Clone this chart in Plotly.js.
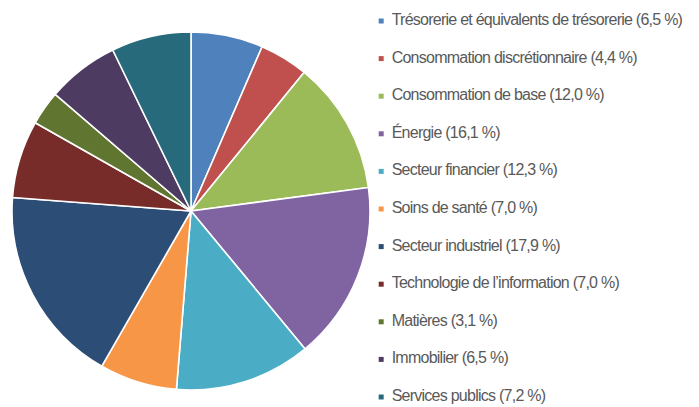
<!DOCTYPE html>
<html>
<head>
<meta charset="utf-8">
<script src="https://cdn.plot.ly/plotly-3.0.1.min.js"></script>
<style>
html,body{margin:0;padding:0;background:#fff;}
#chart{width:699px;height:407px;}
#chart .textpoint text{letter-spacing:-0.75px;}
</style>
</head>
<body>
<div id="chart"></div>
<script>
const categories = [
  "Trésorerie et équivalents de trésorerie",
  "Consommation discrétionnaire",
  "Consommation de base",
  "Énergie",
  "Secteur financier",
  "Soins de santé",
  "Secteur industriel",
  "Technologie de l’information",
  "Matières",
  "Immobilier",
  "Services publics"
];
const valueLabels = ["6,5 %", "4,4 %", "12,0 %", "16,1 %", "12,3 %", "7,0 %", "17,9 %", "7,0 %", "3,1 %", "6,5 %", "7,2 %"];
const values = [6.5, 4.4, 12.0, 16.1, 12.3, 7.0, 17.9, 7.0, 3.1, 6.5, 7.2];
const colors = ["#4F81BD", "#C0504D", "#9BBB59", "#8064A2", "#4BACC6", "#F79646",
                "#2C4D75", "#772C2A", "#5F7530", "#4D3B62", "#276A7C"];

const W = 699, H = 407;
const legendText = categories.map((c, i) => c + " (" + valueLabels[i] + ")");
const legendY = categories.map((c, i) => -i);
const markerX = categories.map(() => 0);
const textX = categories.map(() => 0.033);

const pie = {
  type: "pie",
  labels: categories,
  values: values,
  sort: false,
  direction: "clockwise",
  rotation: 0,
  textinfo: "none",
  hoverinfo: "label+percent",
  marker: { colors: colors, line: { color: "#ffffff", width: 1.6 } },
  domain: { x: [12 / W, 370 / W], y: [17 / H, 375 / H] },
  showlegend: false
};

const legendMarkers = {
  type: "scatter",
  mode: "markers",
  x: markerX,
  y: legendY,
  marker: { symbol: "square", size: 5, color: colors },
  hoverinfo: "skip",
  showlegend: false,
  cliponaxis: false
};

const legendLabels = {
  type: "scatter",
  mode: "text",
  x: textX,
  y: legendY,
  text: legendText,
  textposition: "middle right",
  textfont: { family: "Liberation Sans, Arial, sans-serif", size: 16, color: "#595959" },
  hoverinfo: "skip",
  showlegend: false,
  cliponaxis: false
};

const rowTop = 21, rowStep = 37.6;
const layout = {
  width: W,
  height: H,
  margin: { l: 0, r: 0, t: 0, b: 0 },
  paper_bgcolor: "#ffffff",
  plot_bgcolor: "rgba(0,0,0,0)",
  showlegend: false,
  xaxis: { domain: [378 / W, 1], range: [-0.01, 1], visible: false, fixedrange: true },
  yaxis: { domain: [0, 1], range: [-(H - rowTop) / rowStep, rowTop / rowStep], visible: false, fixedrange: true }
};

Plotly.newPlot("chart", [pie, legendMarkers, legendLabels], layout, { displayModeBar: false, staticPlot: true });
</script>
</body>
</html>
